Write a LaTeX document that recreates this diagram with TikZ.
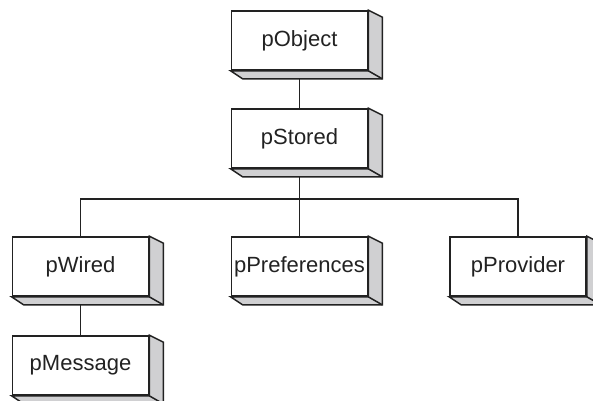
\documentclass[tikz,border=0pt]{standalone}
\usepackage{fontspec}
\setmainfont{Liberation Sans}
\usetikzlibrary{backgrounds}
\definecolor{ink}{HTML}{222222}
\definecolor{shade}{HTML}{D0D0D2}
\begin{document}
\begin{tikzpicture}[x=1pt,y=1pt,
  classbox/.style={draw=ink, line width=1.7pt, fill=white,
    minimum width=136pt, minimum height=59pt, inner sep=0pt,
    font=\fontsize{22}{26}\selectfont, text=ink},
  wire/.style={draw=ink, line width=1.6pt},
  side/.style={draw=ink, line width=1.5pt, fill=shade, line join=miter}]
\useasboundingbox (0,0) rectangle (593,400);

% class boxes (front faces)
\node[classbox] (obj)  at (299.5,359.5) {pObject};
\node[classbox] (sto)  at (299.5,261.5) {pStored};
\node[classbox] (wir)  at (80.5,133.5)  {pWired};
\node[classbox] (pref) at (299.5,133.5) {pPreferences};
\node[classbox] (prov) at (518,133.5)   {pProvider};
\node[classbox] (msg)  at (80.5,34.5)   {pMessage};

\coordinate (bus) at (299.5,201);

\begin{scope}[on background layer]
  % inheritance connectors
  \draw[wire] (obj.south) -- (sto.north);
  \draw[wire] (sto.south) -- (bus);
  \draw[wire] (wir.north) |- (bus) -| (prov.north);
  \draw[wire] (bus) -- (pref.north);
  \draw[wire] (wir.south) -- (msg.north);
  % extruded sides and bottoms
  \foreach \b in {obj,sto,wir,pref,prov,msg}{
    \draw[side] (\b.north east) -- ++(14,-7) -- ([shift={(14,-8)}]\b.south east)
      -- ([shift={(12,-8)}]\b.south west) -- (\b.south west) -- (\b.south east) -- cycle;
    \draw[side] (\b.south east) -- ([shift={(14,-8)}]\b.south east);
  }
\end{scope}
\end{tikzpicture}
\end{document}
